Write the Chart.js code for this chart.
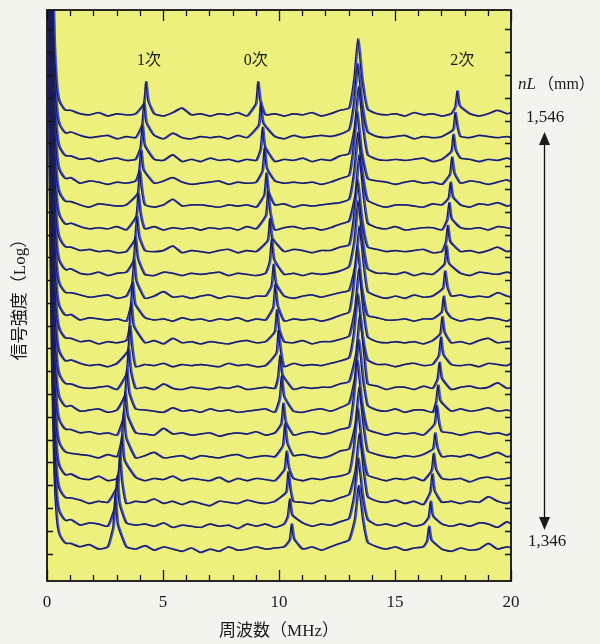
<!DOCTYPE html>
<html>
<head>
<meta charset="utf-8">
<script src="https://cdn.jsdelivr.net/npm/chart.js@4.4.1/dist/chart.umd.min.js"></script>
<style>
  html, body { margin: 0; padding: 0; background: #f4f4ef; }
  canvas { display: block; }
</style>
</head>
<body>
<canvas id="myChart" width="600" height="644"></canvas>
<script>
// frequency grid of the noise floor (MHz)
var noiseFreq = [1.0,1.4,1.8,2.2,2.6,3.0,3.4, 3.8,4.2,4.6,5.0,5.4,5.8,6.2, 6.6,7.0,7.4,7.8,8.2,8.6,9.0,
  9.4,9.8,10.2,10.6,11.0,11.4,11.8, 12.2,12.6,13.0,13.4,13.8,14.2,14.6, 15.0,15.4,15.8,16.2,16.6,17.0,17.4,
  17.8,18.2,18.6,19.0,19.4,19.8,20.0];

// noise floor of each trace, bottom (nL 1,346) to top (nL 1,546), in trace spacings
var noise = [
  [0.45,0.3,0.4,0.2,0.3,0.25,0.3, 0.2,0.35,0.15,0.3,0.2,0.1,0.25, 0.05,0.2,0.1,0.3,0.15,0.2,0.3, 0.2,0.25,0.3,0.35,0.2,0.3,0.15, 0.3,0.45,0.6,0.5,0.5,0.3,0.2, 0.3,0.15,0.25,0.3,0.3,0.2,0.1, 0.25,0.15,0.2,0.45,0.2,0.3,0.25],
  [0.5,0.25,0.35,0.3,0.2,0.3,0.35, 0.25,0.3,0.2,0.35,0.15,0.25,0.2, 0.15,0.3,0.2,0.25,0.1,0.3,0.2, 0.3,0.15,0.3,0.25,0.35,0.2,0.3, 0.25,0.4,0.55,0.5,0.5,0.25,0.3, 0.2,0.35,0.2,0.3,0.25,0.3,0.2, 0.3,0.2,0.35,0.3,0.15,0.4,0.3],
  [0.45,0.35,0.2,0.3,0.25,0.35,0.2, 0.3,0.25,0.4,0.2,0.3,0.15,0.3, 0.2,0.1,0.3,0.25,0.2,0.35,0.25, 0.2,0.3,0.2,0.3,0.25,0.2,0.35, 0.3,0.45,0.6,0.5,0.5,0.3,0.25, 0.35,0.2,0.3,0.15,0.3,0.25,0.3, 0.2,0.3,0.25,0.5,0.3,0.2,0.3],
  [0.5,0.3,0.25,0.4,0.2,0.3,0.25, 0.35,0.2,0.3,0.25,0.4,0.2,0.3, 0.25,0.2,0.35,0.15,0.3,0.2,0.3, 0.25,0.2,0.35,0.3,0.2,0.3,0.25, 0.35,0.4,0.55,0.5,0.45,0.3,0.2, 0.3,0.25,0.35,0.2,0.3,0.3,0.25, 0.3,0.15,0.3,0.35,0.25,0.3,0.35],
  [0.4,0.35,0.3,0.2,0.35,0.25,0.3, 0.2,0.3,0.45,0.2,0.25,0.3,0.15, 0.3,0.25,0.2,0.3,0.35,0.2,0.25, 0.3,0.25,0.2,0.3,0.35,0.25,0.2, 0.3,0.5,0.6,0.5,0.5,0.35,0.25, 0.2,0.3,0.25,0.35,0.3,0.25,0.3, 0.25,0.35,0.2,0.3,0.45,0.25,0.3],
  [0.45,0.3,0.35,0.25,0.3,0.2,0.35, 0.3,0.25,0.2,0.5,0.25,0.3,0.2, 0.25,0.3,0.15,0.25,0.3,0.25,0.35, 0.2,0.3,0.25,0.2,0.3,0.35,0.25, 0.3,0.45,0.55,0.5,0.45,0.3,0.2, 0.3,0.25,0.3,0.2,0.25,0.35,0.3, 0.2,0.3,0.35,0.25,0.3,0.2,0.3],
  [0.5,0.25,0.3,0.35,0.2,0.3,0.25, 0.35,0.3,0.25,0.2,0.4,0.25,0.3, 0.2,0.35,0.25,0.3,0.2,0.25,0.3, 0.35,0.2,0.3,0.25,0.2,0.3,0.35, 0.25,0.4,0.6,0.5,0.5,0.3,0.25, 0.35,0.2,0.3,0.3,0.2,0.3,0.25, 0.35,0.25,0.3,0.4,0.25,0.3,0.25],
  [0.45,0.3,0.25,0.3,0.35,0.2,0.3, 0.25,0.3,0.2,0.45,0.25,0.2,0.3, 0.25,0.2,0.3,0.25,0.35,0.2,0.25, 0.3,0.25,0.35,0.2,0.3,0.25,0.3, 0.3,0.45,0.55,0.5,0.45,0.35,0.2, 0.3,0.3,0.2,0.35,0.25,0.3,0.2, 0.3,0.35,0.25,0.3,0.5,0.25,0.3],
  [0.5,0.35,0.25,0.3,0.2,0.35,0.3, 0.2,0.3,0.25,0.35,0.2,0.3,0.25, 0.3,0.25,0.2,0.35,0.25,0.3,0.2, 0.25,0.3,0.2,0.35,0.25,0.3,0.25, 0.35,0.45,0.6,0.5,0.5,0.3,0.3, 0.2,0.3,0.35,0.25,0.3,0.2,0.3, 0.25,0.3,0.2,0.35,0.3,0.25,0.35],
  [0.45,0.3,0.35,0.2,0.3,0.25,0.35, 0.3,0.25,0.35,0.2,0.45,0.25,0.3, 0.2,0.3,0.25,0.2,0.3,0.35,0.25, 0.3,0.2,0.3,0.25,0.35,0.2,0.3, 0.3,0.4,0.55,0.5,0.5,0.3,0.25, 0.3,0.25,0.3,0.2,0.35,0.3,0.25, 0.3,0.2,0.35,0.45,0.25,0.3,0.3],
  [0.5,0.25,0.35,0.3,0.25,0.3,0.2, 0.3,0.35,0.25,0.3,0.2,0.35,0.25, 0.3,0.2,0.3,0.25,0.35,0.2,0.3, 0.25,0.35,0.2,0.3,0.25,0.3,0.2, 0.3,0.45,0.6,0.5,0.45,0.35,0.25, 0.25,0.3,0.2,0.3,0.3,0.25,0.35, 0.2,0.3,0.25,0.35,0.3,0.2,0.3],
  [0.45,0.35,0.25,0.3,0.35,0.2,0.3, 0.25,0.2,0.3,0.5,0.25,0.3,0.2, 0.3,0.35,0.2,0.3,0.25,0.2,0.3, 0.3,0.25,0.3,0.2,0.3,0.35,0.25, 0.35,0.45,0.55,0.5,0.5,0.3,0.2, 0.3,0.2,0.35,0.25,0.3,0.2,0.3, 0.35,0.25,0.3,0.25,0.45,0.3,0.25],
  [0.5,0.3,0.25,0.35,0.2,0.3,0.35, 0.3,0.25,0.2,0.35,0.3,0.2,0.3, 0.25,0.3,0.35,0.2,0.3,0.25,0.2, 0.3,0.35,0.25,0.3,0.2,0.3,0.25, 0.3,0.4,0.6,0.5,0.5,0.3,0.3, 0.25,0.35,0.2,0.3,0.25,0.3,0.2, 0.3,0.2,0.35,0.3,0.25,0.35,0.3],
  [0.45,0.3,0.35,0.25,0.3,0.2,0.25, 0.35,0.3,0.25,0.3,0.5,0.2,0.3, 0.25,0.2,0.3,0.35,0.2,0.3,0.25, 0.2,0.3,0.25,0.35,0.3,0.2,0.3, 0.3,0.45,0.55,0.5,0.45,0.35,0.25, 0.3,0.25,0.3,0.35,0.2,0.25,0.3, 0.25,0.3,0.2,0.3,0.45,0.25,0.3],
  [0.5,0.35,0.25,0.3,0.25,0.35,0.2, 0.3,0.25,0.35,0.2,0.3,0.25,0.3, 0.2,0.3,0.25,0.3,0.2,0.35,0.25, 0.3,0.2,0.3,0.35,0.25,0.3,0.2, 0.3,0.45,0.6,0.5,0.5,0.3,0.25, 0.35,0.2,0.25,0.3,0.3,0.2,0.3, 0.3,0.25,0.3,0.2,0.35,0.3,0.25],
  [0.45,0.3,0.2,0.35,0.3,0.25,0.3, 0.25,0.3,0.2,0.3,0.55,0.25,0.3, 0.3,0.25,0.2,0.3,0.25,0.3,0.2, 0.25,0.3,0.35,0.2,0.3,0.25,0.3, 0.35,0.4,0.55,0.5,0.5,0.3,0.2, 0.3,0.3,0.25,0.2,0.35,0.3,0.25, 0.3,0.2,0.35,0.3,0.4,0.25,0.3],
  [0.5,0.25,0.35,0.3,0.2,0.3,0.25, 0.35,0.3,0.25,0.35,0.5,0.3,0.2, 0.25,0.3,0.35,0.2,0.3,0.25,0.3, 0.2,0.35,0.25,0.3,0.25,0.3,0.2, 0.3,0.45,0.6,0.5,0.45,0.35,0.3, 0.2,0.3,0.35,0.25,0.3,0.2,0.3, 0.25,0.35,0.3,0.2,0.3,0.4,0.3],
  [0.45,0.3,0.35,0.2,0.3,0.35,0.25, 0.3,0.2,0.3,0.25,0.5,0.2,0.3, 0.2,0.35,0.25,0.3,0.2,0.3,0.25, 0.3,0.2,0.3,0.25,0.35,0.2,0.3, 0.25,0.45,0.55,0.5,0.5,0.3,0.25, 0.3,0.25,0.3,0.35,0.2,0.3,0.25, 0.35,0.3,0.2,0.3,0.25,0.35,0.3],
  [0.5,0.35,0.25,0.3,0.35,0.2,0.3, 0.25,0.3,0.35,0.2,0.45,0.25,0.2, 0.3,0.25,0.3,0.2,0.35,0.25,0.3, 0.25,0.3,0.2,0.35,0.25,0.3,0.35, 0.3,0.4,0.6,0.5,0.5,0.3,0.25, 0.3,0.35,0.2,0.3,0.25,0.3,0.2, 0.3,0.25,0.35,0.3,0.25,0.3,0.25],
  [0.45,0.3,0.25,0.35,0.2,0.3,0.25, 0.3,0.25,0.3,0.2,0.35,0.55,0.25, 0.3,0.2,0.3,0.25,0.35,0.2,0.3, 0.25,0.3,0.2,0.3,0.25,0.35,0.2, 0.3,0.45,0.55,0.5,0.5,0.3,0.25, 0.3,0.2,0.35,0.25,0.3,0.2,0.3, 0.25,0.3,0.2,0.3,0.45,0.3,0.35]
];

// steep low-frequency decay at the left edge [MHz, level]
var decay = [[0, 40], [0.1, 16], [0.2, 8], [0.3, 3.5], [0.4, 1.6], [0.5, 0.9], [0.65, 0.6], [0.8, 0.45]];

// peaks [MHz, level]: shoulder, top, shoulder - one triplet per trace, bottom to top
var peak1st = [
  [[2.84,1.2],[2.93,2.6],[3.03,1.3]], [[2.92,1.1],[3.01,2.4],[3.11,1.2]], [[3.03,1.0],[3.12,2.3],[3.22,1.15]],
  [[3.13,1.0],[3.22,2.2],[3.32,1.1]], [[3.2,1.0],[3.29,2.2],[3.39,1.1]], [[3.27,0.95],[3.36,2.1],[3.46,1.05]],
  [[3.34,0.95],[3.43,2.1],[3.53,1.05]], [[3.41,0.9],[3.5,2.0],[3.6,1.0]], [[3.47,0.9],[3.56,2.0],[3.66,1.0]],
  [[3.53,0.9],[3.62,2.0],[3.72,1.0]], [[3.59,0.85],[3.68,1.9],[3.78,0.95]], [[3.65,0.85],[3.74,1.9],[3.84,0.95]],
  [[3.71,0.85],[3.8,1.9],[3.9,0.95]], [[3.77,0.8],[3.86,1.8],[3.96,0.9]], [[3.83,0.8],[3.92,1.8],[4.02,0.9]],
  [[3.89,0.8],[3.98,1.8],[4.08,0.9]], [[3.95,0.75],[4.04,1.7],[4.14,0.85]], [[4.01,0.8],[4.1,1.8],[4.2,0.9]],
  [[4.08,0.8],[4.17,1.8],[4.27,0.9]], [[4.16,0.75],[4.25,1.7],[4.35,0.85]]
];
var peak0th = [
  [[10.44,0.6],[10.53,1.3],[10.63,0.65]], [[10.36,0.65],[10.45,1.4],[10.55,0.7]], [[10.29,0.7],[10.38,1.6],[10.48,0.8]],
  [[10.22,0.7],[10.31,1.5],[10.41,0.75]], [[10.15,0.75],[10.24,1.7],[10.34,0.85]], [[10.08,0.7],[10.17,1.6],[10.27,0.8]],
  [[10.01,0.8],[10.1,1.8],[10.2,0.9]], [[9.94,0.75],[10.03,1.7],[10.13,0.85]], [[9.87,0.8],[9.96,1.8],[10.06,0.9]],
  [[9.8,0.75],[9.89,1.7],[9.99,0.85]], [[9.73,0.8],[9.82,1.8],[9.92,0.9]], [[9.66,0.75],[9.75,1.7],[9.85,0.85]],
  [[9.58,0.8],[9.67,1.8],[9.77,0.9]], [[9.5,0.75],[9.59,1.7],[9.69,0.85]], [[9.42,0.85],[9.51,1.9],[9.61,0.95]],
  [[9.35,0.75],[9.44,1.7],[9.54,0.85]], [[9.27,0.8],[9.36,1.8],[9.46,0.9]], [[9.19,0.75],[9.28,1.7],[9.38,0.85]],
  [[9.11,0.8],[9.2,1.8],[9.3,0.9]], [[8.99,0.75],[9.08,1.7],[9.18,0.85]]
];
var peakCenter = [
  [[13.25,1.5],[13.42,3.0],[13.6,1.5]], [[13.23,1.6],[13.4,3.2],[13.58,1.6]], [[13.28,1.65],[13.45,3.3],[13.63,1.65]],
  [[13.21,1.7],[13.38,3.4],[13.56,1.7]], [[13.27,1.65],[13.44,3.3],[13.62,1.65]], [[13.19,1.75],[13.36,3.5],[13.54,1.75]],
  [[13.25,1.7],[13.42,3.4],[13.6,1.7]], [[13.3,1.75],[13.47,3.5],[13.65,1.75]], [[13.21,1.7],[13.38,3.4],[13.56,1.7]],
  [[13.26,1.75],[13.43,3.5],[13.61,1.75]], [[13.19,1.75],[13.36,3.5],[13.54,1.75]], [[13.28,1.7],[13.45,3.4],[13.63,1.7]],
  [[13.23,1.75],[13.4,3.5],[13.58,1.75]], [[13.2,1.7],[13.37,3.4],[13.55,1.7]], [[13.27,1.75],[13.44,3.5],[13.62,1.75]],
  [[13.22,1.75],[13.39,3.5],[13.57,1.75]], [[13.18,1.7],[13.35,3.4],[13.53,1.7]], [[13.25,1.75],[13.42,3.5],[13.6,1.75]],
  [[13.21,1.75],[13.38,3.5],[13.56,1.75]], [[13.22,1.8],[13.39,3.6],[13.57,1.8]]
];
var peak2nd = [
  [[16.36,0.55],[16.45,1.2],[16.55,0.6]], [[16.43,0.6],[16.52,1.3],[16.62,0.65]], [[16.5,0.7],[16.59,1.5],[16.69,0.75]],
  [[16.56,0.65],[16.65,1.4],[16.75,0.7]], [[16.62,0.6],[16.71,1.3],[16.81,0.65]], [[16.69,0.7],[16.78,1.5],[16.88,0.75]],
  [[16.75,0.65],[16.84,1.4],[16.94,0.7]], [[16.81,0.65],[16.9,1.4],[17.0,0.7]], [[16.87,0.7],[16.96,1.5],[17.06,0.75]],
  [[16.93,0.65],[17.02,1.4],[17.12,0.7]], [[16.99,0.6],[17.08,1.3],[17.18,0.65]], [[17.05,0.65],[17.14,1.4],[17.24,0.7]],
  [[17.11,0.7],[17.2,1.5],[17.3,0.75]], [[17.17,0.65],[17.26,1.4],[17.36,0.7]], [[17.23,0.65],[17.32,1.4],[17.42,0.7]],
  [[17.29,0.6],[17.38,1.3],[17.48,0.65]], [[17.35,0.65],[17.44,1.4],[17.54,0.7]], [[17.41,0.65],[17.5,1.4],[17.6,0.7]],
  [[17.49,0.6],[17.58,1.35],[17.68,0.7]], [[17.58,0.6],[17.67,1.3],[17.77,0.65]]
];

var xTickLabels = [0, 5, 10, 15, 20];
var orderLabels = ['1次', '0次', '2次'];
var nLLabels = ['1,546', '1,346'];

var serif = '"Liberation Serif", "Noto Sans CJK JP", serif';

function buildTrace(i) {
  var peaks = [peak1st[i], peak0th[i], peakCenter[i], peak2nd[i]];
  var pts = decay.map(function(p) { return { x: p[0], y: i + p[1] }; });
  noiseFreq.forEach(function(f, j) {
    var inPeak = peaks.some(function(pk) { return f > pk[0][0] - 0.12 && f < pk[2][0] + 0.12; });
    if (!inPeak) pts.push({ x: f, y: i + noise[i][j] });
  });
  peaks.forEach(function(pk) {
    pk.forEach(function(p) { pts.push({ x: p[0], y: i + p[1] }); });
  });
  pts.sort(function(a, b) { return a.x - b.x; });
  return pts;
}

var datasets = [];
for (var i = 0; i < noise.length; i++) {
  var pts = buildTrace(i);
  datasets.push({ data: pts.slice(), borderColor: '#1d1e55', borderWidth: 1.35, order: 1,
    pointRadius: 0, fill: false, tension: 0.15 });
  datasets.push({ data: pts.slice(), borderColor: '#3d50e6', borderWidth: 1.6, order: 2,
    pointRadius: 0, fill: false, tension: 0.15, shifted: true });
}

var framePlugin = {
  id: 'frame',
  beforeDatasetsDraw: function(chart) {
    var a = chart.chartArea, c = chart.ctx;
    c.save();
    c.fillStyle = '#edf07c';
    c.fillRect(a.left, a.top, a.right - a.left, a.bottom - a.top);
    c.restore();
  },
  beforeDatasetDraw: function(chart, args) {
    if (chart.data.datasets[args.index].shifted) { chart.ctx.save(); chart.ctx.translate(1.3, 0); }
  },
  afterDatasetDraw: function(chart, args) {
    if (chart.data.datasets[args.index].shifted) chart.ctx.restore();
  },
  afterDatasetsDraw: function(chart) {
    var a = chart.chartArea, c = chart.ctx;
    var xs = chart.scales.x, ys = chart.scales.y;
    c.save();
    c.strokeStyle = '#111';
    c.lineWidth = 1.3;
    c.beginPath();
    xs.ticks.forEach(function(t) {
      var px = Math.round(xs.getPixelForValue(t.value)) + 0.5;
      var len = t.value % 5 === 0 ? 11 : 6;
      c.moveTo(px, a.top); c.lineTo(px, a.top + len);
      c.moveTo(px, a.bottom); c.lineTo(px, a.bottom - len);
    });
    ys.ticks.forEach(function(t) {
      if (!Number.isInteger(t.value) || t.value < 0) return;
      var py = Math.round(ys.getPixelForValue(t.value)) + 0.5;
      c.moveTo(a.left, py); c.lineTo(a.left + 6, py);
      c.moveTo(a.right, py); c.lineTo(a.right - 6, py);
    });
    c.stroke();
    c.lineWidth = 1.8;
    c.strokeRect(a.left, a.top, a.right - a.left, a.bottom - a.top);

    // order labels above the peaks
    c.fillStyle = '#1a1a1a';
    c.textAlign = 'center';
    c.textBaseline = 'middle';
    c.font = '16px ' + serif;
    c.fillText(orderLabels[0], xs.getPixelForValue(4.4), 61);
    c.fillText(orderLabels[1], xs.getPixelForValue(9.0), 61);
    c.fillText(orderLabels[2], xs.getPixelForValue(17.9), 61);

    // nL (mm) and range arrow on the right
    c.textAlign = 'left';
    c.font = 'italic 17px ' + serif;
    c.fillText('nL', 518, 85);
    var w = c.measureText('nL').width;
    c.font = '16px ' + serif;
    c.fillText('（mm）', 518 + w + 2, 85);
    c.textAlign = 'center';
    c.font = '17px ' + serif;
    c.fillText(nLLabels[0], 545, 118);
    c.fillText(nLLabels[1], 547, 542);

    c.lineWidth = 1.3;
    c.beginPath();
    c.moveTo(544.5, 144); c.lineTo(544.5, 518);
    c.stroke();
    c.beginPath();
    c.moveTo(544.5, 132); c.lineTo(539, 145); c.lineTo(550, 145); c.closePath();
    c.moveTo(544.5, 530); c.lineTo(539, 517); c.lineTo(550, 517); c.closePath();
    c.fill();
    c.restore();
  }
};

var ctx = document.getElementById('myChart').getContext('2d');
var chart = new Chart(ctx, {
  type: 'line',
  data: { datasets: datasets },
  options: {
    responsive: false,
    animation: false,
    events: [],
    layout: { padding: { left: 0, right: 89, top: 10, bottom: 0 } },
    plugins: { legend: { display: false }, tooltip: { enabled: false } },
    scales: {
      x: {
        type: 'linear', min: 0, max: 20,
        grid: { display: false },
        border: { display: false },
        ticks: {
          stepSize: 1, autoSkip: false, maxRotation: 0, padding: 3,
          color: '#1a1a1a', font: { family: serif, size: 17 },
          callback: function(v) { return xTickLabels.indexOf(v) >= 0 ? v : ''; }
        },
        title: { display: true, text: '周波数（MHz）', color: '#1a1a1a',
          font: { family: serif, size: 17 }, padding: { top: 0, bottom: 2 } },
        afterFit: function(s) { s.height = 63; }
      },
      y: {
        min: -1.2, max: 23.85,
        grid: { display: false },
        border: { display: false },
        ticks: { display: false, stepSize: 1 },
        title: { display: true, text: '信号強度（Log）', color: '#1a1a1a',
          font: { family: serif, size: 17 }, padding: { top: 10, bottom: 0 } },
        afterFit: function(s) { s.width = 47; }
      }
    }
  },
  plugins: [framePlugin]
});
</script>
</body>
</html>
